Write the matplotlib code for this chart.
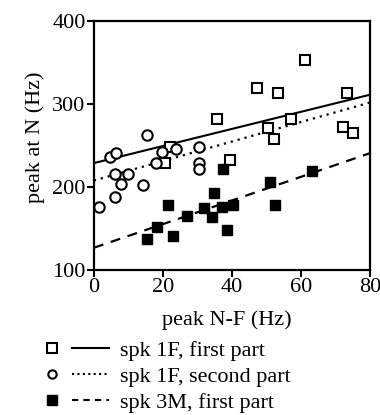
import numpy as np
import matplotlib
matplotlib.use('Agg')
import matplotlib.pyplot as plt
from matplotlib.lines import Line2D
from matplotlib.legend_handler import HandlerTuple

plt.rcParams['font.family'] = ['Liberation Serif', 'DejaVu Serif']

# spk 1F, first part (open squares)
x_1f_first = [61.2, 47.2, 53.3, 73.3, 35.6, 50.4, 52.2, 57.1, 72.2, 75.1, 39.4, 22.0, 20.6]
y_1f_first = [353, 320, 314, 313, 282, 271, 258, 282, 272, 265, 233, 248, 229]

# spk 1F, second part (open circles)
x_1f_second = [15.4, 4.6, 6.4, 6.1, 7.8, 9.9, 14.2, 6.1, 1.4, 19.7, 23.8, 18.0, 30.4, 30.4, 30.4]
y_1f_second = [263, 236, 241, 216, 204, 216, 203, 188, 176, 242, 246, 229, 248, 229, 222]

# spk 3M, first part (filled squares)
x_3m_first = [21.4, 34.8, 31.9, 34.2, 37.1, 40.3, 27.0, 18.3, 38.6, 22.9, 15.4, 51.0, 52.5, 63.2, 37.4]
y_3m_first = [178, 193, 175, 164, 176, 178, 165, 152, 148, 141, 138, 206, 178, 219, 222]

# regression lines: (intercept, slope)
fit_1f_first = (229, 1.03)
fit_1f_second = (208, 1.175)
fit_3m_first = (127, 1.425)

labels = ['spk 1F, first part', 'spk 1F, second part', 'spk 3M, first part']

dotted = (0, (1, 2.2))
dashed = (0, (4.5, 3.5))

fig = plt.figure(figsize=(3.8, 4.15), dpi=100)
ax = fig.add_axes([0.247, 0.349, 0.727, 0.600])

xl = np.array([0, 80])
ms = 7.5
ax.plot(xl, fit_1f_first[0] + fit_1f_first[1] * xl, color='black', lw=1.5, ls='-')
ax.plot(xl, fit_1f_second[0] + fit_1f_second[1] * xl, color='black', lw=1.6, ls=dotted)
ax.plot(xl, fit_3m_first[0] + fit_3m_first[1] * xl, color='black', lw=1.6, ls=dashed)

ax.plot(x_1f_first, y_1f_first, ls='none', marker='s', ms=ms, mfc='white', mec='black', mew=1.5)
ax.plot(x_1f_second, y_1f_second, ls='none', marker='o', ms=ms, mfc='white', mec='black', mew=1.5)
ax.plot(x_3m_first, y_3m_first, ls='none', marker='s', ms=ms, mfc='black', mec='black', mew=1.0)

ax.set_xlim(0, 80)
ax.set_ylim(100, 400)
ax.set_xticks([0, 20, 40, 60, 80])
ax.set_yticks([100, 200, 300, 400])
ax.tick_params(direction='out', length=5, width=1.5, labelsize=16, pad=1)
for s in ax.spines.values():
    s.set_linewidth(1.6)
ax.set_xlabel('peak N-F (Hz)', fontsize=16, labelpad=9)
ax.set_ylabel('peak at N (Hz)', fontsize=16, labelpad=5)
ax.xaxis.label.set_x(0.482)
ax.yaxis.label.set_y(0.535)

h1 = (Line2D([], [], ls='none', marker='s', ms=7, mfc='white', mec='black', mew=1.5),
      Line2D([], [], color='black', lw=1.5, ls='-'))
h2 = (Line2D([], [], ls='none', marker='o', ms=6, mfc='white', mec='black', mew=1.5),
      Line2D([], [], color='black', lw=1.5, ls=(0, (1, 1.6))))
h3 = (Line2D([], [], ls='none', marker='s', ms=7, mfc='black', mec='black'),
      Line2D([], [], color='black', lw=1.5, ls=(0, (3, 2.5))))
fig.legend([h1, h2, h3], labels, loc='upper left', bbox_to_anchor=(0.088, 0.180),
           frameon=False, borderpad=0, borderaxespad=0, fontsize=16,
           handlelength=3.4, handletextpad=0.48, labelspacing=0.24,
           handler_map={tuple: HandlerTuple(ndivide=2, pad=0.1)})

fig.savefig('out.png', dpi=100)
